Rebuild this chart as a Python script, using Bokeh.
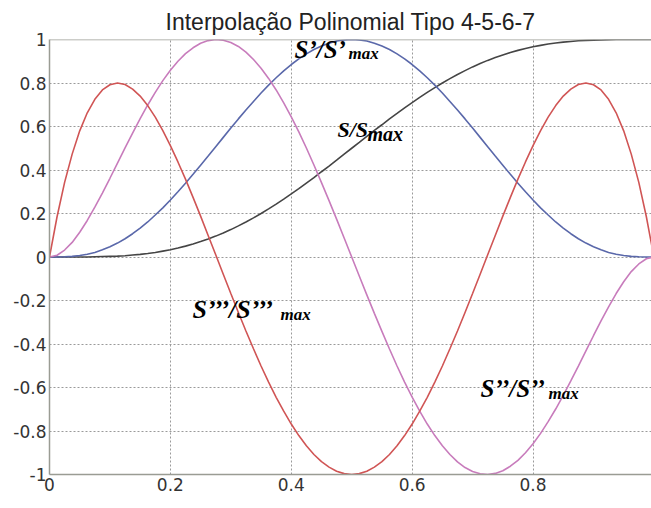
from bokeh.plotting import figure
from bokeh.models import FixedTicker, Span
from bokeh.core.properties import value
from bokeh.embed import file_html
from bokeh.resources import INLINE

# ---- data ----
t = [0.0, 0.0125, 0.025, 0.0375, 0.05, 0.0625, 0.075, 0.0875, 0.1, 0.1125,
     0.125, 0.1375, 0.15, 0.1625, 0.175, 0.1875, 0.2, 0.2125, 0.225, 0.2375,
     0.25, 0.2625, 0.275, 0.2875, 0.3, 0.3125, 0.325, 0.3375, 0.35, 0.3625,
     0.375, 0.3875, 0.4, 0.4125, 0.425, 0.4375, 0.45, 0.4625, 0.475, 0.4875,
     0.5, 0.5125, 0.525, 0.5375, 0.55, 0.5625, 0.575, 0.5875, 0.6, 0.6125,
     0.625, 0.6375, 0.65, 0.6625, 0.675, 0.6875, 0.7, 0.7125, 0.725, 0.7375,
     0.75, 0.7625, 0.775, 0.7875, 0.8, 0.8125, 0.825, 0.8375, 0.85, 0.8625,
     0.875, 0.8875, 0.9, 0.9125, 0.925, 0.9375, 0.95, 0.9625, 0.975, 0.9875, 1.0]

# S / Smax (black)
s_norm = [0.0, 0.0, 0.0, 0.0, 0.0, 0.0, 0.001, 0.002, 0.003, 0.004,
          0.006, 0.009, 0.012, 0.016, 0.021, 0.027, 0.033, 0.041, 0.050, 0.060,
          0.071, 0.083, 0.096, 0.110, 0.126, 0.143, 0.161, 0.180, 0.200, 0.221,
          0.243, 0.266, 0.290, 0.314, 0.340, 0.365, 0.392, 0.418, 0.445, 0.473,
          0.5, 0.527, 0.555, 0.582, 0.608, 0.635, 0.660, 0.686, 0.710, 0.734,
          0.757, 0.779, 0.800, 0.820, 0.839, 0.857, 0.874, 0.890, 0.904, 0.917,
          0.929, 0.940, 0.950, 0.959, 0.967, 0.973, 0.979, 0.984, 0.988, 0.991,
          0.994, 0.996, 0.997, 0.998, 0.999, 1.0, 1.0, 1.0, 1.0, 1.0, 1.0]

# S' / S'max (blue)
v_norm = [0.0, 0.0, 0.001, 0.003, 0.007, 0.013, 0.021, 0.033, 0.047, 0.064,
          0.084, 0.107, 0.133, 0.161, 0.193, 0.226, 0.262, 0.300, 0.339, 0.380,
          0.422, 0.464, 0.507, 0.550, 0.593, 0.635, 0.676, 0.715, 0.754, 0.790,
          0.824, 0.856, 0.885, 0.911, 0.934, 0.954, 0.970, 0.983, 0.993, 0.998,
          1.0, 0.998, 0.993, 0.983, 0.970, 0.954, 0.934, 0.911, 0.885, 0.856,
          0.824, 0.790, 0.754, 0.715, 0.676, 0.635, 0.593, 0.550, 0.507, 0.464,
          0.422, 0.380, 0.339, 0.300, 0.262, 0.226, 0.193, 0.161, 0.133, 0.107,
          0.084, 0.064, 0.047, 0.033, 0.021, 0.013, 0.007, 0.003, 0.001, 0.0, 0.0]

# S'' / S''max (magenta)
a_norm = [0.0, 0.008, 0.032, 0.067, 0.114, 0.168, 0.229, 0.294, 0.362, 0.432,
          0.502, 0.570, 0.636, 0.699, 0.757, 0.811, 0.859, 0.900, 0.935, 0.962,
          0.983, 0.995, 1.0, 0.997, 0.986, 0.968, 0.942, 0.908, 0.868, 0.821,
          0.768, 0.709, 0.644, 0.575, 0.501, 0.423, 0.342, 0.259, 0.174, 0.087,
          0.0, -0.087, -0.174, -0.259, -0.342, -0.423, -0.501, -0.575, -0.644, -0.709,
          -0.768, -0.821, -0.868, -0.908, -0.942, -0.968, -0.986, -0.997, -1.0, -0.995,
          -0.983, -0.962, -0.935, -0.900, -0.859, -0.811, -0.757, -0.699, -0.636, -0.570,
          -0.502, -0.432, -0.362, -0.294, -0.229, -0.168, -0.114, -0.067, -0.032, -0.008, 0.0]

# S''' / S'''max (red)
j_norm = [0.0, 0.185, 0.343, 0.473, 0.580, 0.663, 0.725, 0.768, 0.792, 0.800,
          0.793, 0.772, 0.740, 0.696, 0.643, 0.581, 0.512, 0.437, 0.358, 0.274,
          0.188, 0.099, 0.010, -0.079, -0.168, -0.255, -0.340, -0.422, -0.501, -0.575,
          -0.645, -0.709, -0.768, -0.821, -0.868, -0.908, -0.941, -0.966, -0.985, -0.996,
          -1.0, -0.996, -0.985, -0.966, -0.941, -0.908, -0.868, -0.821, -0.768, -0.709,
          -0.645, -0.575, -0.501, -0.422, -0.340, -0.255, -0.168, -0.079, 0.010, 0.099,
          0.188, 0.274, 0.358, 0.437, 0.512, 0.581, 0.643, 0.696, 0.740, 0.772,
          0.793, 0.800, 0.792, 0.768, 0.725, 0.663, 0.580, 0.473, 0.343, 0.185, 0.0]

x_ticks = [0, 0.2, 0.4, 0.6, 0.8]
x_tick_labels = ["0", "0.2", "0.4", "0.6", "0.8"]
y_ticks = [-1, -0.8, -0.6, -0.4, -0.2, 0, 0.2, 0.4, 0.6, 0.8, 1]
y_tick_labels = ["-1", "-0.8", "-0.6", "-0.4", "-0.2", "0", "0.2", "0.4", "0.6", "0.8", "1"]

title_text = "Interpolação Polinomial Tipo 4-5-6-7"

# curve labels: main part and subscript
lab_main = ["S\u2019/S\u2019", "S/S", "S\u2019\u2019\u2019/S\u2019\u2019\u2019", "S\u2019\u2019/S\u2019\u2019"]
lab_sub = ["max", "max", "max", "max"]
# label anchor positions (data units) and sizes
lab_main_x = [0.4054, 0.4764, 0.2366, 0.7131]
lab_main_y = [0.955, 0.585, -0.240, -0.606]
lab_sub_x = [0.4947, 0.5261, 0.3822, 0.8256]
lab_sub_y = [0.937, 0.566, -0.263, -0.629]
lab_main_size = ["25px", "22px", "26px", "25px"]
lab_sub_size = ["17px", "20px", "17px", "17px"]

# ---- figure ----
p = figure(width=651, height=508, x_range=(0, 0.996), y_range=(-1, 1),
           output_backend="svg", toolbar_location=None, title=title_text,
           min_border_left=49, min_border_right=0, min_border_top=39,
           min_border_bottom=34, background_fill_color="white",
           border_fill_color="white")

p.title.align = "center"
p.title.text_font = "Liberation Sans"
p.title.text_font_size = "23px"
p.title.text_font_style = "normal"
p.title.text_color = "#222222"
p.title.standoff = 10

p.outline_line_color = None

for ax in (p.xaxis[0], p.yaxis[0]):
    ax.axis_line_color = "#9a9c94"
    ax.axis_line_width = 1.5
    ax.major_tick_line_color = None
    ax.minor_tick_line_color = None
    ax.major_tick_out = 0
    ax.major_tick_in = 0
    ax.minor_tick_out = 0
    ax.minor_tick_in = 0
    ax.major_label_text_font = "DejaVu Sans"
    ax.major_label_text_font_size = "17px"
    ax.major_label_text_color = "#333333"

p.xaxis.ticker = FixedTicker(ticks=x_ticks)
p.xaxis.major_label_overrides = dict(zip(x_ticks, x_tick_labels))
p.xaxis.major_label_standoff = 3
p.yaxis.ticker = FixedTicker(ticks=y_ticks)
p.yaxis.major_label_overrides = dict(zip(y_ticks, y_tick_labels))
p.yaxis.major_label_standoff = 3

p.grid.grid_line_color = "#9a9a9a"
p.grid.grid_line_dash = "2 2"
p.grid.grid_line_width = 1

p.add_layout(Span(location=1, dimension="width", line_color="#9a9c94", line_width=1.5))

p.line(t, s_norm, line_color="#454545", line_width=1.6)
p.line(t, v_norm, line_color="#5a68aa", line_width=1.6)
p.line(t, a_norm, line_color="#c87cbc", line_width=1.6)
p.line(t, j_norm, line_color="#d05555", line_width=1.6)

for i in range(len(lab_main)):
    p.text(x=[lab_main_x[i]], y=[lab_main_y[i]], text=[lab_main[i]],
           text_font=value("Liberation Serif"), text_font_style="bold italic",
           text_font_size=lab_main_size[i], text_color="black",
           text_baseline="alphabetic", text_align="left")
    p.text(x=[lab_sub_x[i]], y=[lab_sub_y[i]], text=[lab_sub[i]],
           text_font=value("Liberation Serif"), text_font_style="bold italic",
           text_font_size=lab_sub_size[i], text_color="black",
           text_baseline="alphabetic", text_align="left")

open("out.html", "w").write(file_html(p, INLINE))
